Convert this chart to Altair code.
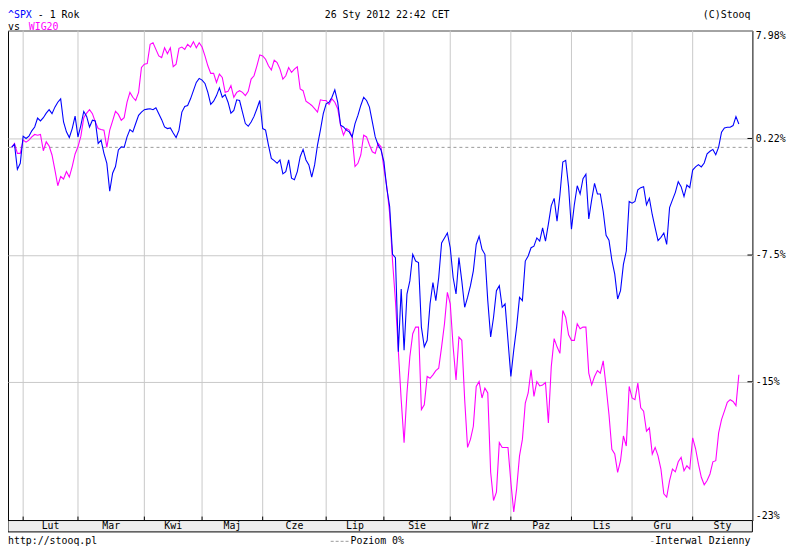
import altair as alt
import pandas as pd

# ---------------- data ----------------
# percent change since the first session, one value per trading day
spx_pct = [
    0.00, 0.22, -1.50, -1.09, 0.77, 0.61, 0.77, 1.14, 1.41, 2.03,
    1.83, 2.06, 2.38, 2.62, 2.34, 2.80, 3.15, 3.39, 1.76, 1.07,
    0.68, 1.30, 2.17, 0.72, 1.53, 2.50, 2.15, 1.41, 1.88, 1.83,
    0.27, 0.50, -0.41, -1.09, -2.97, -1.76, -1.31, -0.18, 0.04, 0.00,
    0.72, 1.23, 1.07, 1.65, 2.22, 2.45, 2.62, 2.66, 2.69, 2.62,
    2.76, 2.34, 1.92, 1.41, 1.30, 1.34, 0.99, 0.68, 1.19, 2.45,
    2.85, 2.92, 3.39, 3.97, 4.56, 4.85, 4.73, 4.49, 3.85, 2.99,
    3.22, 3.62, 4.17, 3.50, 3.69, 3.15, 2.38, 2.57, 3.32, 3.27,
    2.45, 1.65, 1.46, 1.76, 2.15, 2.69, 3.27, 1.30, 1.19, 0.16,
    -0.75, -0.91, -1.09, -0.86, -1.80, -1.65, -0.86, -2.09, -2.20, -1.65,
    -0.64, -0.14, -0.86, -1.20, -2.02, -1.20, 0.16, 1.19, 2.34, 3.04,
    3.15, 3.50, 4.03, 3.15, 1.53, 1.41, 1.19, 1.07, 0.72, 1.65,
    2.22, 2.92, 3.50, 3.27, 2.80, 1.76, 0.72, 0.16, -0.18, -0.98,
    -2.75, -3.98, -7.08, -7.29, -13.10, -9.27, -13.00, -9.58, -8.76, -7.08,
    -7.51, -7.61, -11.61, -12.80, -12.41, -10.19, -8.86, -9.99, -8.55, -6.35,
    -6.03, -5.71, -6.66, -8.55, -9.58, -7.29, -8.76, -10.40, -9.79, -9.06,
    -8.13, -6.45, -5.92, -6.76, -7.08, -9.99, -12.21, -11.01, -9.37, -9.06,
    -10.40, -10.19, -12.41, -14.56, -13.00, -11.61, -9.79, -9.99, -7.51, -7.19,
    -6.66, -6.56, -6.03, -6.24, -5.38, -6.24, -5.14, -3.92, -3.44, -4.95,
    -3.22, -1.00, -0.89, -2.66, -5.47, -3.85, -2.60, -3.15, -2.13, -1.83,
    -4.79, -3.54, -2.44, -3.15, -3.15, -4.31, -5.86, -6.18, -7.45, -8.34,
    -9.89, -9.37, -7.72, -6.87, -3.65, -3.76, -3.65, -2.88, -2.73, -2.66,
    -3.87, -3.44, -4.52, -5.38, -6.20, -5.99, -5.71, -6.45, -4.05, -3.54,
    -3.04, -2.33, -2.66, -3.32, -2.55, -2.73, -1.55, -1.33, -1.18, -1.33,
    -1.07, -0.44, -0.27, -0.14, -0.50, 0.02, 1.05, 1.34, 1.39, 1.39,
    1.51, 2.14, 1.62,
]
wig_pct = [
    0.00, 0.27, -0.41, -0.41, 0.50, 0.36, 0.50, 0.72, 0.89, 0.84,
    0.89, -0.23, 0.38, 0.09, -0.52, -1.53, -2.60, -1.98, -2.15, -1.65,
    -2.02, -1.31, -0.45, 0.04, 0.77, 2.06, 2.38, 2.62, 2.34, 1.76,
    1.30, 1.23, 1.19, 0.00, 1.19, 1.83, 2.50, 2.29, 1.88, 2.06,
    3.15, 3.85, 3.50, 3.27, 3.85, 5.64, 5.88, 5.93, 7.33, 7.45,
    6.96, 6.48, 6.36, 7.08, 6.64, 7.08, 5.69, 5.88, 7.04, 7.13,
    6.96, 7.33, 7.13, 7.53, 7.08, 7.45, 7.13, 6.48, 5.76, 5.21,
    5.21, 4.56, 5.16, 4.92, 3.85, 3.92, 4.33, 3.50, 3.85, 3.97,
    3.85, 3.62, 3.92, 4.80, 5.04, 5.76, 6.55, 6.48, 6.24, 5.76,
    5.46, 6.17, 6.00, 5.52, 4.80, 5.04, 5.64, 5.28, 5.52, 5.69,
    4.09, 3.97, 3.22, 3.08, 2.92, 2.69, 2.45, 3.32, 3.27, 3.27,
    2.99, 3.39, 3.15, 2.69, 1.53, 0.84, 1.30, 1.19, 0.72, -1.31,
    -1.09, -0.52, 0.84, 0.72, 0.16, -0.30, -0.41, 0.27, 0.04, -1.42,
    -2.64, -4.44, -7.51, -9.99, -13.00, -15.91, -18.35, -15.52, -13.39, -12.01,
    -11.61, -11.61, -16.48, -16.20, -14.56, -14.66, -14.46, -14.21, -14.07, -12.80,
    -11.41, -9.48, -10.19, -12.80, -14.76, -12.21, -12.41, -15.91, -18.62, -18.17,
    -17.43, -15.14, -14.86, -15.81, -15.24, -15.52, -20.00, -21.53, -21.08, -18.35,
    -18.62, -18.62, -18.62, -20.54, -22.15, -20.90, -19.09, -18.17, -16.10, -15.52,
    -14.17, -15.72, -14.86, -15.11, -15.05, -14.92, -17.24, -13.98, -12.31, -12.80,
    -13.19, -10.60, -11.01, -12.08, -12.41, -12.41, -11.41, -11.71, -11.61, -11.61,
    -14.36, -15.05, -14.56, -14.21, -14.36, -13.63, -15.14, -16.76, -18.72, -18.99,
    -20.00, -19.36, -17.98, -18.54, -15.14, -15.81, -15.91, -14.95, -16.38, -16.57,
    -17.71, -17.52, -18.99, -18.62, -19.09, -19.82, -21.17, -21.35, -20.45, -19.82,
    -19.97, -19.42, -19.18, -19.91, -19.64, -19.82, -18.08, -18.68, -19.55, -20.27,
    -20.68, -20.45, -20.09, -19.42, -19.36, -17.80, -17.05, -16.57, -16.06, -15.91,
    -16.01, -16.25, -14.46,
]
days = list(range(len(spx_pct)))

month_labels = ["Lut", "Mar", "Kwi", "Maj", "Cze", "Lip",
                "Sie", "Wrz", "Paz", "Lis", "Gru", "Sty"]
month_start_day = [4, 23, 46, 66, 87, 109, 129, 152, 173, 194, 215, 236]

# price-axis grid (SPX levels) and the labels stooq prints next to them
spx_base = 1292.07
grid_levels = [1400, 1300, 1200, 1100, 1000]
grid_labels = ["7.98%", "0.22%", "-7.5%", "-15%", "-23%"]

# ---------------- derived tables ----------------
X_MIN, X_MAX = -1.25, 256.7
grid_r = [lv / spx_base for lv in grid_levels]

spx_df = pd.DataFrame({"day": days, "pct": spx_pct})
wig_df = pd.DataFrame({"day": days, "pct": wig_pct})
bounds = month_start_day[1:] + [X_MAX]
month_df = pd.DataFrame({
    "start": month_start_day,
    "mid": [(a + b) / 2 for a, b in zip(month_start_day, bounds)],
    "label": month_labels,
})
inner_grid_df = pd.DataFrame({"r": grid_r[1:-1]})
zero_df = pd.DataFrame({"r": [1.0]})
dummy = pd.DataFrame({"a": [0]})

FONT = "DejaVu Sans Mono"
W, H = 752, 495

x_scale = alt.Scale(domain=[X_MIN, X_MAX], nice=False, zero=False)
y_scale = alt.Scale(type="log", domain=[grid_r[-1], grid_r[0]], nice=False)

# label expression built from the label list
parts = []
for i in range(len(grid_r) - 1):
    thr = (grid_r[i] + grid_r[i + 1]) / 2
    parts.append(f"datum.value > {thr:.5f} ? '{grid_labels[i]}'")
label_expr = " : ".join(parts) + f" : '{grid_labels[-1]}'"

y_axis = alt.Axis(orient="right", values=grid_r, labelExpr=label_expr,
                  grid=True, gridColor="#c8c8c8", gridWidth=1,
                  domain=False, ticks=False, labelFlush=True,
                  labelPadding=3, labelFont=FONT, labelFontSize=10,
                  labelColor="black", title=None)


def Y(field):
    return alt.Y(field, scale=y_scale, axis=y_axis)


def line_layer(df, color):
    return alt.Chart(df).transform_calculate(
        r="1 + datum.pct / 100"
    ).mark_line(color=color, strokeWidth=1.1, interpolate="linear").encode(
        x=alt.X("day:Q", scale=x_scale, axis=None),
        y=Y("r:Q"),
    )


vgrid = alt.Chart(month_df).mark_rule(color="#c8c8c8", strokeWidth=1).encode(
    x=alt.X("start:Q", scale=x_scale, axis=None),
    y=alt.value(0), y2=alt.value(H),
)
bottom_ticks = alt.Chart(month_df).mark_rule(color="black", strokeWidth=1).encode(
    x=alt.X("start:Q", scale=x_scale, axis=None),
    y=alt.value(H - 4), y2=alt.value(H),
)
right_ticks = alt.Chart(inner_grid_df).mark_rule(color="black", strokeWidth=1).encode(
    y=Y("r:Q"),
    x=alt.value(W - 5), x2=alt.value(W),
)
zero_line = alt.Chart(zero_df).mark_rule(
    color="#999999", strokeWidth=1, strokeDash=[3, 3]
).encode(
    y=Y("r:Q"),
    x=alt.value(0), x2=alt.value(W),
)
band = alt.Chart(dummy).mark_rect(fill="#eeeeee", stroke="black", strokeWidth=1).encode(
    x=alt.value(0), x2=alt.value(W), y=alt.value(H), y2=alt.value(H + 11.5),
)
month_text = alt.Chart(month_df).mark_text(
    font=FONT, fontSize=10, color="black", baseline="middle", align="center"
).encode(
    x=alt.X("mid:Q", scale=x_scale, axis=None),
    y=alt.value(H + 6),
    text="label:N",
)


def label(txt, x, y, color="black", align="left"):
    return alt.Chart(dummy).mark_text(
        text=txt, font=FONT, fontSize=10, color=color,
        align=align, baseline="middle",
    ).encode(x=alt.value(x), y=alt.value(y))


legend_dash = alt.Chart(dummy).mark_rule(
    color="#999999", strokeWidth=1, strokeDash=[3, 2]
).encode(x=alt.value(326), x2=alt.value(344), y=alt.value(516))

texts = [
    label("^SPX", 0, -15.5, "#0000ff"),
    label("- 1 Rok", 30.1, -15.5),
    label("26 Sty 2012 22:42 CET", 383, -15.5, align="center"),
    label("(C)Stooq", 750, -15.5, align="right"),
    label("vs", 0, -4),
    label("WIG20", 21, -4, "#ff00ff"),
    label("http://stooq.pl", 0, 516),
    label("Poziom 0%", 346, 516),
    label("-", 653.7, 516, "#999999", align="right"),
    label("Interwal Dzienny", 750, 516, align="right"),
]

chart = alt.layer(
    vgrid,
    zero_line,
    line_layer(wig_df, "#ff00ff"),
    line_layer(spx_df, "#0000ff"),
    bottom_ticks,
    right_ticks,
    band,
    month_text,
    legend_dash,
    *texts,
).properties(
    width=W, height=H,
    autosize=alt.AutoSizeParams(type="none"),
    padding={"left": 0, "top": 20, "right": 40, "bottom": 27},
    background="white",
).configure_view(
    stroke="black", strokeWidth=1,
)

chart.save("out.html", embed_options={"renderer": "svg", "actions": False})
